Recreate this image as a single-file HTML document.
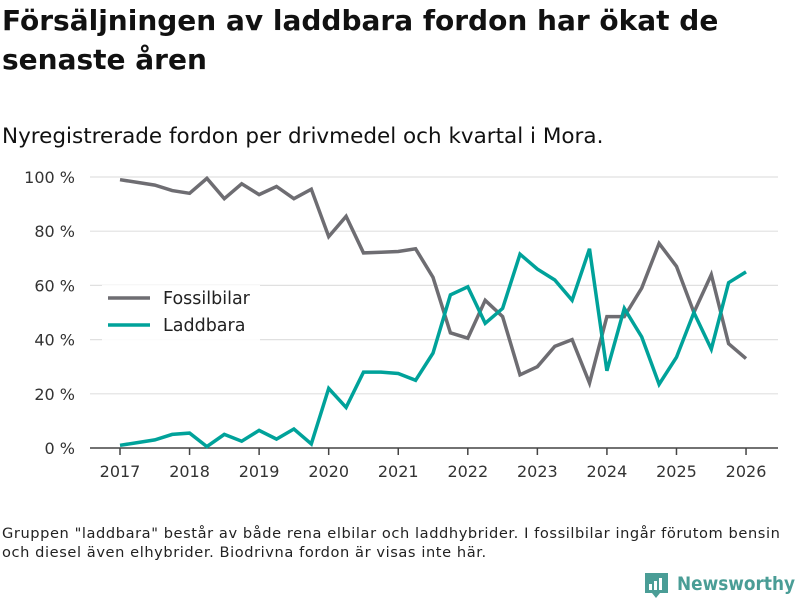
<!DOCTYPE html>
<html><head><meta charset="utf-8"><style>
body{margin:0;background:#fff;width:800px;height:600px;overflow:hidden;font-family:"DejaVu Sans","Liberation Sans",sans-serif;color:#111}
#title{position:absolute;left:2px;top:1px;font-size:28px;font-weight:bold;line-height:39px;width:790px}
#sub{position:absolute;left:2px;top:124px;font-size:21.5px}
#note{position:absolute;left:2px;top:524px;font-size:14.6px;line-height:19px;color:#222;letter-spacing:0.58px;white-space:nowrap}
svg{position:absolute;left:0;top:0}
</style></head><body>
<div id="title">Försäljningen av laddbara fordon har ökat de<br>senaste åren</div>
<div id="sub">Nyregistrerade fordon per drivmedel och kvartal i Mora.</div>
<div id="note">Gruppen "laddbara" består av både rena elbilar och laddhybrider. I fossilbilar ingår förutom bensin<br>och diesel även elhybrider. Biodrivna fordon är visas inte här.</div>
<svg id="chart" width="800" height="600"></svg>
<script>
const years=[2017,2018,2019,2020,2021,2022,2023,2024,2025,2026];
const yTicks=[0,20,40,60,80,100];
const fossil=[99,98,97,95,94,99.5,92,97.5,93.5,96.5,92,95.5,78,85.5,72,72.2,72.5,73.5,63,42.5,40.5,54.5,48.5,27,30,37.5,40,24,48.5,48.5,59,75.5,67,50,64,38.5,33];
const laddbara=[1,2,3,5,5.5,0.5,5,2.5,6.5,3.3,7,1.5,22,15,28,28,27.5,25,35,56.5,59.5,46,51.5,71.5,66,62,54.5,73.5,28.5,51.5,41,23.5,33.5,50,36.5,61,65];
const NS='http://www.w3.org/2000/svg';
const svg=document.getElementById('chart');
const x=t=>120+(t-2017)*69.56;
const y=v=>448-v*2.71;
function mk(tag,attrs){const e=document.createElementNS(NS,tag);for(const k in attrs)e.setAttribute(k,attrs[k]);svg.appendChild(e);return e;}
yTicks.forEach(v=>{
  const g=mk('line',{x1:90,x2:778,y1:y(v),y2:y(v),stroke:v===0?'#444':'#e0e0e0','stroke-width':v===0?1.5:1.2});
  
  
  const t=mk('text',{x:75,y:y(v)+6,'text-anchor':'end','font-size':16,fill:'#333','font-family':'DejaVu Sans, sans-serif'});
  t.textContent=v+' %';
  
  
});
years.forEach(yr=>{
  const l=mk('line',{x1:x(yr),x2:x(yr),y1:448,y2:455,stroke:'#444','stroke-width':1.5});
  
  
  const t=mk('text',{x:x(yr),y:477,'text-anchor':'middle','font-size':16,fill:'#333','font-family':'DejaVu Sans, sans-serif'});
  t.textContent=yr;
  
  
});
function series(vals,color,name){
  const d=vals.map((v,i)=>(i?'L':'M')+x(2017+i/4).toFixed(1)+','+y(v).toFixed(1)).join('');
  const p=mk('path',{d:d,fill:'none',stroke:color,'stroke-width':3.5,'stroke-linejoin':'miter'});
  
  
}
series(fossil,'#6e6d72','fossilbilar-line');
series(laddbara,'#00a29a','laddbara-line');
const bg=mk('rect',{x:102,y:285,width:158,height:56,fill:'#fff',opacity:0.9});


[['Fossilbilar','#6e6d72',298],['Laddbara','#00a29a',325]].forEach(([n,c,yy])=>{
  const l=mk('line',{x1:108,x2:150,y1:yy,y2:yy,stroke:c,'stroke-width':3.5});
  
  
  const t=mk('text',{x:163,y:yy+6,'font-size':17.5,fill:'#222','font-family':'DejaVu Sans, sans-serif'});
  t.textContent=n;
  
  
});
// logo
const ic=mk('path',{d:'M645,573h23v20h-8l-4,5l-4,-5h-7z',fill:'#4a9d96'});


[[649,584,3,6],[654,581,3,9],[659,578,3,12]].forEach(b=>{const r=mk('rect',{x:b[0],y:b[1],width:b[2],height:b[3],fill:'#fff'});});
const lt=mk('text',{x:677,y:590,'font-size':19,fill:'#4a9d96','font-family':'DejaVu Sans, sans-serif','font-weight':'bold',textLength:118,lengthAdjust:'spacingAndGlyphs'});
lt.textContent='Newsworthy';


</script>
</body></html>
